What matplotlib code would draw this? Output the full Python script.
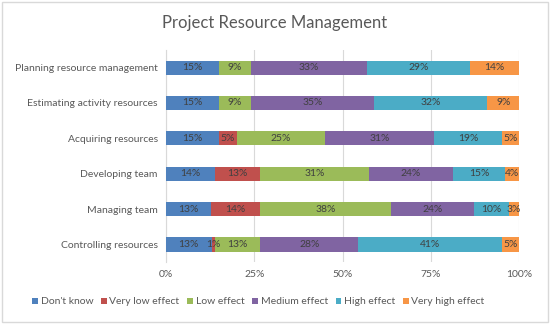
import matplotlib
matplotlib.use("Agg")
import matplotlib.pyplot as plt
import numpy as np
from matplotlib.patches import Rectangle

plt.rcParams['font.family'] = ['Lato', 'DejaVu Sans']

categories = ["Planning resource management", "Estimating activity resources",
              "Acquiring resources", "Developing team", "Managing team",
              "Controlling resources"]
series = ["Don't know", "Very low effect", "Low effect", "Medium effect",
          "High effect", "Very high effect"]
dont_know = [15, 15, 15, 14, 13, 13]
very_low = [0, 0, 5, 13, 14, 1]
low = [9, 9, 25, 31, 38, 13]
medium = [33, 35, 31, 24, 24, 28]
high = [29, 32, 19, 15, 10, 41]
very_high = [14, 9, 5, 4, 3, 5]
ticks = [0, 25, 50, 75, 100]
tick_labels = ["0%", "25%", "50%", "75%", "100%"]

colors = ["#4F81BD", "#C0504D", "#9BBB59", "#8064A2", "#4BACC6", "#F79646"]

data = np.array([dont_know, very_low, low, medium, high, very_high], dtype=float)
totals = data.sum(axis=0)
norm = data / totals * 100

fig = plt.figure(figsize=(5.5, 3.24), dpi=100)
fig.patches.append(Rectangle((0.004, 0.006), 0.992, 0.988, transform=fig.transFigure,
                             fill=False, edgecolor="#D9D9D9", linewidth=1))
ax = fig.add_axes([0.302, 0.191, 0.642, 0.655])

y = np.arange(len(categories))
left = np.zeros(len(categories))
for i, name in enumerate(series):
    bars = ax.barh(y, norm[i], left=left, height=0.4, color=colors[i], label=name, zorder=3)
    for j, b in enumerate(bars):
        if data[i][j] > 0:
            ax.text(left[j] + norm[i][j] / 2, y[j], f"{int(data[i][j])}%",
                    ha="center", va="center", fontsize=7.5, color="#404040", zorder=4)
    left += norm[i]

ax.set_ylim(len(categories) - 0.5, -0.5)
ax.set_xlim(0, 100)
ax.set_yticks(y)
ax.set_yticklabels(categories, fontsize=7.5, color="#595959")
ax.set_xticks(ticks)
ax.set_xticklabels(tick_labels, fontsize=7.5, color="#595959")
ax.tick_params(length=0, pad=6)
ax.xaxis.grid(True, color="#D9D9D9", linewidth=0.8, zorder=0)
for s in ["top", "right", "bottom"]:
    ax.spines[s].set_visible(False)
ax.spines["left"].set_color("#D9D9D9")

fig.text(0.5, 0.928, "Project Resource Management", ha="center", va="center",
         fontsize=12, color="#595959")

handles, labels = ax.get_legend_handles_labels()
fig.legend(handles, labels, loc="center", bbox_to_anchor=(0.47, 0.068), ncol=6,
           frameon=False, fontsize=7.5, handlelength=0.55, handleheight=0.55,
           handletextpad=0.25, columnspacing=0.75, labelcolor="#595959")

fig.savefig("out.png", dpi=100)
